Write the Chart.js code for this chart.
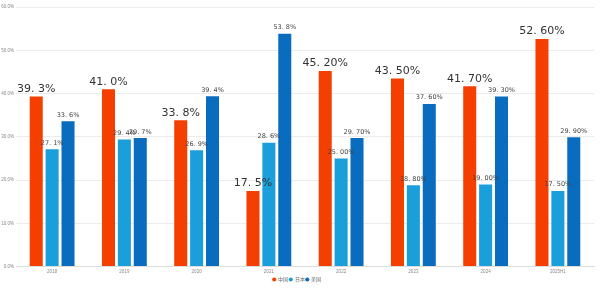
<!DOCTYPE html>
<html lang="zh-CN">
<head>
<meta charset="UTF-8">
<title>chart</title>
<script src="https://cdn.jsdelivr.net/npm/chart.js"></script>
<style>
  html, body { margin: 0; padding: 0; background: #fff; }
  #box { width: 600px; height: 288px; }
</style>
</head>
<body>
<div id="box"><canvas id="grafico" width="600" height="288"></canvas></div>
<script>
  const anos = ['2018', '2019', '2020', '2021', '2022', '2023', '2024', '2025H1'];
  const nomes = ['中国', '日本', '美国'];
  const serieA = [39.3, 41.0, 33.8, 17.5, 45.2, 43.5, 41.7, 52.6];
  const serieB = [27.1, 29.4, 26.9, 28.6, 25.0, 18.8, 19.0, 17.5];
  const serieC = [33.6, 29.7, 39.4, 53.8, 29.7, 37.6, 39.3, 29.9];
  const rotulosA = ['39. 3%', '41. 0%', '33. 8%', '17. 5%', '45. 20%', '43. 50%', '41. 70%', '52. 60%'];
  const rotulosB = ['27. 1%', '29. 4%', '26. 9%', '28. 6%', '25. 00%', '18. 80%', '19. 00%', '17. 50%'];
  const rotulosC = ['33. 6%', '29. 7%', '39. 4%', '53. 8%', '29. 70%', '37. 60%', '39. 30%', '29. 90%'];
  const ticksY = [0, 10, 20, 30, 40, 50, 60];

  const cores = ['#f43f00', '#1b9fdb', '#0a6cbf'];
  const rotulos = [rotulosA, rotulosB, rotulosC];

  // desenha os valores em cima das barras
  const valores = {
    id: 'valores',
    afterDatasetsDraw(chart) {
      const c = chart.ctx;
      chart.data.datasets.forEach(function (ds, i) {
        const meta = chart.getDatasetMeta(i);
        if (meta.hidden) return;
        meta.data.forEach(function (bar, j) {
          c.save();
          c.textAlign = 'center';
          c.textBaseline = 'bottom';
          if (i == 0) {
            c.font = '11px "DejaVu Sans"';
            c.fillStyle = '#333';
            c.fillText(rotulos[i][j], bar.x, bar.y - 2);
          } else {
            c.font = '6.5px "DejaVu Sans"';
            c.fillStyle = '#444';
            c.fillText(rotulos[i][j], bar.x, bar.y - 3);
          }
          c.restore();
        });
      });
    }
  };

  new Chart(document.getElementById('grafico'), {
    type: 'bar',
    data: {
      labels: anos,
      datasets: [
        { label: nomes[0], data: serieA, backgroundColor: cores[0] },
        { label: nomes[1], data: serieB, backgroundColor: cores[1] },
        { label: nomes[2], data: serieC, backgroundColor: cores[2] }
      ]
    },
    options: {
      responsive: false,
      animation: false,
      devicePixelRatio: 1,
      layout: { padding: { top: 7, right: 6, left: 0, bottom: 3 } },
      datasets: {
        bar: { categoryPercentage: 0.66, barPercentage: 0.82 }
      },
      scales: {
        x: {
          grid: { display: false, drawTicks: false },
          border: { color: '#ddd' },
          ticks: { font: { size: 4.5 }, color: '#888', padding: 2 }
        },
        y: {
          min: 0,
          max: 60,
          afterBuildTicks(axis) { axis.ticks = ticksY.map(v => ({ value: v })); },
          afterFit(axis) { axis.width = 16; },
          grid: { color: '#ececec', drawTicks: false },
          border: { display: false },
          ticks: {
            font: { size: 4.5 }, color: '#888', padding: 2,
            callback: v => v.toFixed(1) + '%'
          }
        }
      },
      plugins: {
        legend: {
          position: 'bottom',
          maxHeight: 9,
          labels: {
            usePointStyle: true, pointStyle: 'circle',
            boxWidth: 3, boxHeight: 3, padding: 1,
            font: { size: 5 }, color: '#666'
          }
        },
        tooltip: { enabled: false }
      }
    },
    plugins: [valores]
  });
</script>
</body>
</html>
